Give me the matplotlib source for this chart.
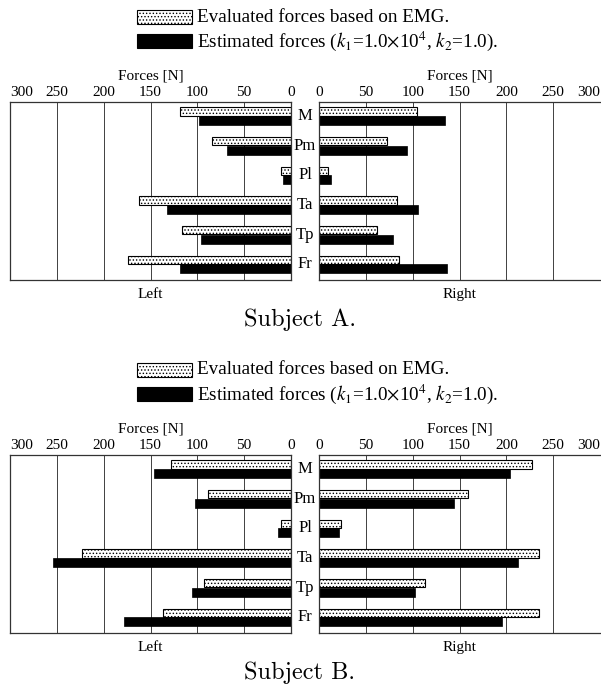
import matplotlib
matplotlib.use('Agg')
import matplotlib.pyplot as plt
from matplotlib.patches import Rectangle
from matplotlib.transforms import blended_transform_factory

plt.rcParams['font.family'] = 'serif'
plt.rcParams['font.serif'] = ['Liberation Serif', 'DejaVu Serif']
plt.rcParams['mathtext.fontset'] = 'stix'
plt.rcParams['hatch.linewidth'] = 0.6

W, H = 601, 686

muscles = ['M', 'Pm', 'Pl', 'Ta', 'Tp', 'Fr']
ticks = [0, 50, 100, 150, 200, 250, 300]

# subject A
a_left_eval = [119, 84, 11, 162, 116, 174]
a_left_est = [98, 68, 9, 132, 96, 118]
a_right_eval = [105, 73, 10, 83, 62, 85]
a_right_est = [135, 94, 13, 106, 79, 137]

# subject B
b_left_eval = [128, 89, 11, 223, 93, 137]
b_left_est = [146, 102, 14, 254, 106, 178]
b_right_eval = [227, 159, 23, 235, 113, 235]
b_right_est = [204, 144, 21, 212, 103, 195]

legend_eval = 'Evaluated forces based on EMG.'
legend_est = r'Estimated forces ($k_1$=1.0$\times$10$^4$, $k_2$=1.0).'


def px(x, y):
    return x / W, 1 - y / H


def make_axes(fig, x0, x1, top, bottom):
    return fig.add_axes([x0 / W, 1 - bottom / H, (x1 - x0) / W, (bottom - top) / H])


def style_axes(ax, side):
    ax.set_xlim(0, 300)
    if side == 'left':
        ax.invert_xaxis()
    ax.set_ylim(len(muscles) - 0.47, -0.47)
    ax.set_xticks(ticks)
    ax.set_yticks([])
    ax.xaxis.tick_top()
    ax.xaxis.set_label_position('top')
    ax.tick_params(axis='x', length=0, pad=2, labelsize=11)
    ax.set_xlabel('Forces [N]', fontsize=11, labelpad=5)
    for t in ticks[1:]:
        ax.axvline(t, color='0.25', lw=0.7, zorder=0)
    for s in ax.spines.values():
        s.set_linewidth(0.9)
        s.set_color('0.2')
    if side == 'right':
        ax.spines['right'].set_visible(False)
    labels = ax.get_xticklabels()
    labels[-1].set_ha('left' if side == 'left' else 'right')


def draw_bars(ax, evals, ests):
    pos = list(range(len(muscles)))
    ax.barh([p - 0.145 for p in pos], evals, height=0.28, color='white',
            edgecolor='black', hatch='.....', lw=0.8, zorder=2)
    ax.barh([p + 0.15 for p in pos], ests, height=0.3, color='black',
            edgecolor='black', lw=0.5, zorder=2)


def draw_legend(fig, y0):
    for i, (lab, est) in enumerate([(legend_eval, False), (legend_est, True)]):
        yc = y0 + i * 24
        x, y = px(137, yc + 7)
        rect = Rectangle((x, y), 55 / W, 14 / H, transform=fig.transFigure,
                         facecolor='black' if est else 'white', edgecolor='black',
                         hatch=None if est else '.....', lw=0.8)
        fig.add_artist(rect)
        tx, ty = px(197, yc)
        fig.text(tx, ty, lab, fontsize=13.8, va='center', ha='left')


def draw_panel(fig, dy, left_eval, left_est, right_eval, right_est, title):
    top, bottom = 102 + dy, 280 + dy
    axl = make_axes(fig, 10, 291, top, bottom)
    axr = make_axes(fig, 319, 600, top, bottom)
    style_axes(axl, 'left')
    style_axes(axr, 'right')
    draw_bars(axl, left_eval, left_est)
    draw_bars(axr, right_eval, right_est)
    tr = blended_transform_factory(axl.transAxes, axl.transData)
    for i, m in enumerate(muscles):
        axl.text(1.05, i, m, transform=tr, ha='center', va='center',
                 fontsize=12, clip_on=False)
    axl.text(0.5, -0.045, 'Left', transform=axl.transAxes, ha='center',
             va='top', fontsize=11)
    axr.text(0.5, -0.045, 'Right', transform=axr.transAxes, ha='center',
             va='top', fontsize=11)
    tx, ty = px(300, bottom + 40)
    fig.text(tx, ty, title, ha='center', va='center', fontsize=17.5,
             family=['cmr10', 'DejaVu Serif'])
    draw_legend(fig, 17 + dy)


fig = plt.figure(figsize=(W / 100, H / 100), dpi=100)
draw_panel(fig, 0, a_left_eval, a_left_est, a_right_eval, a_right_est, 'Subject A.')
draw_panel(fig, 353, b_left_eval, b_left_est, b_right_eval, b_right_est, 'Subject B.')

fig.savefig('out.png', dpi=100)
